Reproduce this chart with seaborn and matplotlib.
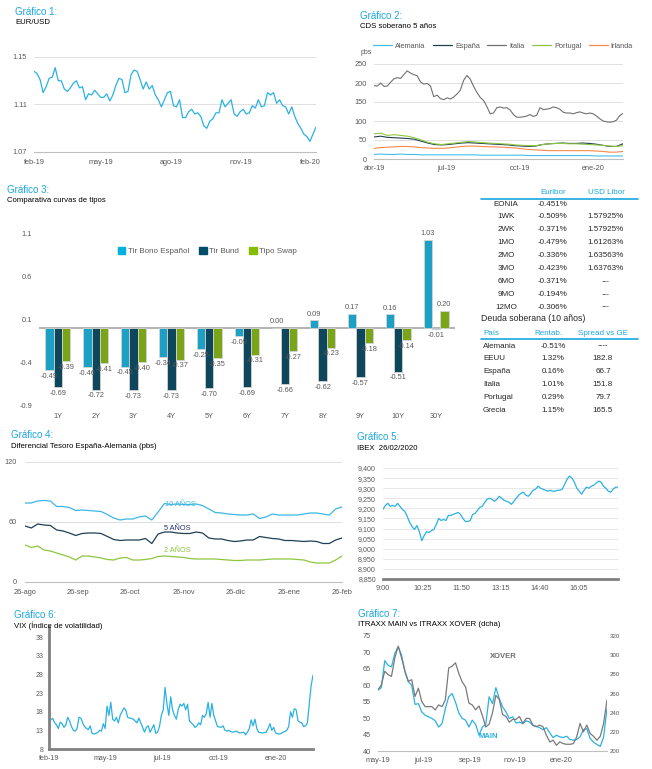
import matplotlib
matplotlib.use("Agg")
import matplotlib.dates as mdates
import matplotlib.pyplot as plt
import numpy as np
import pandas as pd
import seaborn as sns
from matplotlib.lines import Line2D
from matplotlib.patches import Patch

sns.set_theme(style="white")
plt.rcParams["font.family"] = ["Liberation Sans", "DejaVu Sans"]

# ---------------- data ----------------
# Gráfico 1: EUR/USD
eurusd = [1.138, 1.136, 1.131, 1.120, 1.125, 1.132, 1.133, 1.141, 1.130, 1.130, 1.123, 1.121,
          1.124, 1.128, 1.130, 1.124, 1.125, 1.114, 1.119, 1.118, 1.122, 1.119, 1.116, 1.116,
          1.119, 1.113, 1.118, 1.126, 1.132, 1.131, 1.120, 1.121, 1.135, 1.139, 1.138, 1.131,
          1.123, 1.129, 1.123, 1.126, 1.118, 1.114, 1.108, 1.114, 1.120, 1.121, 1.109, 1.108,
          1.114, 1.099, 1.099, 1.104, 1.106, 1.102, 1.103, 1.100, 1.092, 1.090, 1.096, 1.098,
          1.103, 1.103, 1.114, 1.108, 1.111, 1.114, 1.102, 1.100, 1.104, 1.106, 1.102, 1.103,
          1.109, 1.107, 1.114, 1.108, 1.109, 1.120, 1.118, 1.120, 1.111, 1.114, 1.109, 1.108,
          1.102, 1.108, 1.100, 1.094, 1.090, 1.085, 1.083, 1.079, 1.085, 1.091]
eurusd_ticks = ["2019-02-01", "2019-05-01", "2019-08-01", "2019-11-01", "2020-02-01"]
eurusd_labels = ["feb-19", "may-19", "ago-19", "nov-19", "feb-20"]

# Gráfico 2: CDS soberano 5 años (pbs)
cds_italia = [193, 192, 200, 191, 192, 202, 211, 214, 212, 222, 232, 226, 222, 219, 203, 197,
              199, 192, 164, 168, 159, 156, 161, 158, 163, 171, 181, 207, 220, 210, 191, 175,
              162, 154, 138, 119, 121, 135, 137, 134, 135, 129, 117, 110, 110, 111, 113, 117,
              112, 115, 135, 130, 131, 133, 137, 135, 131, 123, 121, 121, 119, 122, 124, 121,
              119, 121, 119, 113, 106, 100, 98, 97, 98, 102, 114, 120]
cds_portugal = [66, 68, 62, 64, 62, 60, 56, 50, 44, 40, 38, 40, 42, 44, 46, 45, 43, 42, 41,
                40, 39, 37, 36, 35, 35, 38, 40, 41, 41, 40, 40, 39, 38, 37, 36, 34, 33, 35]
cds_espana = [58, 60, 57, 56, 55, 54, 52, 47, 42, 38, 37, 38, 40, 42, 43, 42, 41, 40, 39,
              38, 37, 35, 34, 33, 34, 38, 40, 41, 42, 41, 41, 42, 41, 39, 36, 33, 33, 40]
cds_irlanda = [28, 30, 31, 32, 33, 33, 32, 30, 29, 28, 28, 29, 31, 33, 34, 34, 33, 32, 32,
               31, 30, 29, 27, 25, 24, 23, 22, 22, 22, 22, 22, 22, 22, 21, 20, 18, 18, 20]
cds_alemania = [12, 13, 12, 12, 13, 12, 12, 11, 11, 11, 11, 11, 11, 11, 11, 11, 10, 10, 10,
                10, 10, 10, 10, 9, 9, 9, 9, 9, 9, 9, 9, 9, 9, 8, 8, 8, 8, 8]
cds_names = ["Alemania", "España", "Italia", "Portugal", "Irlanda"]

# Gráfico 3: curvas de tipos
plazos = ["1Y", "2Y", "3Y", "4Y", "5Y", "6Y", "7Y", "8Y", "9Y", "10Y", "30Y"]
tir_bono = [-0.49, -0.46, -0.45, -0.34, -0.25, -0.09, 0.00, 0.09, 0.17, 0.16, 1.03]
tir_bund = [-0.69, -0.72, -0.73, -0.73, -0.70, -0.69, -0.66, -0.62, -0.57, -0.51, -0.01]
tipo_swap = [-0.39, -0.41, -0.40, -0.37, -0.35, -0.31, -0.27, -0.23, -0.18, -0.14, 0.20]
curvas = ["Tir Bono Español", "Tir Bund", "Tipo Swap"]

# Tabla Euribor / Libor
plazos_mm = ["EONIA", "1WK", "2WK", "1MO", "2MO", "3MO", "6MO", "9MO", "12MO"]
euribor = ["-0.451%", "-0.509%", "-0.371%", "-0.479%", "-0.336%", "-0.423%", "-0.371%",
           "-0.194%", "-0.306%"]
usd_libor = ["", "1.57925%", "1.57925%", "1.61263%", "1.63563%", "1.63763%", "---", "---", "---"]

# Tabla Deuda soberana (10 años)
paises = ["Alemania", "EEUU", "España", "Italia", "Portugal", "Grecia"]
rentab = ["-0.51%", "1.32%", "0.16%", "1.01%", "0.29%", "1.15%"]
spread = ["----", "182.8", "66.7", "151.8", "79.7", "165.5"]

# Gráfico 4: diferencial España-Alemania (pbs)
dif_10a = [79, 79, 81, 81.5, 81, 75.5, 75.5, 74.5, 71.5, 72, 71.5, 71, 70.5, 67.5, 64, 62, 63,
           63, 65, 66, 62, 70, 78.5, 77.5, 78, 77.5, 77.5, 78, 76.5, 73, 69.5, 69, 68, 67.5,
           67, 67, 68, 63.5, 65, 68, 67, 67, 67, 67, 68, 69, 69, 68, 67, 73, 75]
dif_5a = [56, 54, 58, 57, 56.5, 52, 51, 49, 46.5, 48.5, 49, 49, 48.5, 45.5, 42.5, 41.5, 42,
          42, 42, 43.5, 38.5, 48, 50, 50, 49, 48.5, 48.5, 50, 49, 44, 43, 43, 41.5, 40.5, 41,
          42, 42, 45.5, 44.5, 43.5, 43, 41.5, 41.5, 41, 40.5, 41, 40.5, 38.5, 38.5, 42, 44]
dif_2a = [37, 34.5, 36, 32, 31, 29, 27, 25, 22, 26, 26, 25, 24, 22.5, 22, 24, 24.5, 22, 22,
          22.5, 23.5, 25.5, 26, 25.5, 25, 24.5, 23.5, 23, 23, 23, 23, 22.5, 22, 21.5, 21.5, 22,
          22, 22, 22.5, 23, 23, 23, 23, 22.5, 22, 20, 19, 19, 19, 22, 26]
dif_ticks = ["2019-08-26", "2019-09-26", "2019-10-26", "2019-11-26", "2019-12-26",
             "2020-01-26", "2020-02-26"]
dif_labels = ["26-ago", "26-sep", "26-oct", "26-nov", "26-dic", "26-ene", "26-feb"]

# Gráfico 5: IBEX intradía 26/02/2020
ibex = [9195, 9215, 9225, 9210, 9215, 9210, 9225, 9210, 9195, 9185, 9160, 9130, 9110, 9095,
        9115, 9085, 9040, 9065, 9085, 9080, 9090, 9095, 9120, 9150, 9140, 9145, 9140, 9165,
        9165, 9170, 9175, 9180, 9170, 9150, 9135, 9135, 9140, 9170, 9175, 9190, 9205, 9210,
        9230, 9245, 9250, 9245, 9235, 9245, 9260, 9250, 9240, 9235, 9230, 9220, 9235, 9250,
        9265, 9275, 9280, 9265, 9260, 9275, 9290, 9295, 9310, 9300, 9295, 9290, 9285, 9290,
        9285, 9285, 9290, 9290, 9295, 9320, 9345, 9360, 9350, 9330, 9300, 9285, 9270, 9290,
        9305, 9300, 9310, 9315, 9325, 9335, 9330, 9310, 9300, 9285, 9280, 9295, 9305, 9305]
ibex_minutes = [0, 85, 170, 255, 340, 425]
ibex_labels = ["9:00", "10:25", "11:50", "13:15", "14:40", "16:05"]

# Gráfico 6: VIX
vix = [16, 15.8, 16.2, 15, 14.5, 13.5, 15.2, 14.8, 13.8, 14.5, 16.5, 15.5, 14, 13, 12.8, 13.5,
       16.5, 16.3, 15, 14, 13.5, 13.2, 14.2, 12.2, 12.0, 12.2, 12.4, 13, 12.8, 14.8, 13.5, 19.5,
       17, 20.5, 16, 15.5, 16.5, 15, 17, 18, 19, 18.5, 16.5, 16.3, 16.2, 16, 15.5, 15, 16.3,
       15, 13.8, 12.5, 13.8, 14.2, 12.5, 13.5, 14.5, 12.2, 12.5, 14, 17, 18.5, 24.5, 20, 17,
       22, 18.5, 17, 16, 18.5, 20, 19.5, 20.2, 18.5, 20, 15.5, 15, 14.5, 13.8, 14.2, 15, 14.5,
       17, 16.5, 17.5, 20.5, 16.5, 20.2, 17, 15.5, 14, 13.9, 13.8, 14.2, 13, 12.8, 13, 12.7,
       12.5, 12.6, 12.8, 12.5, 12.3, 12.4, 12.5, 11.8, 12.5, 13.5, 15.8, 14.2, 16, 13.5, 12.5,
       12.4, 12.3, 12.4, 12.5, 13.5, 14.8, 13, 13.8, 12.3, 12.1, 12, 12.2, 12.5, 12.7, 13, 14,
       18, 16.5, 18.8, 18.5, 15.5, 15.2, 15, 14, 14.2, 15, 20, 25, 27.8]
vix_labels = ["feb-19", "may-19", "jul-19", "oct-19", "ene-20"]

# Gráfico 7: ITRAXX MAIN (izq) vs XOVER (dcha)
itraxx_main = [58.5, 59.3, 67.5, 66.1, 65.6, 69.7, 71.7, 69.2, 64.1, 61.1, 60.0, 54.2, 54.4,
               51.9, 50.9, 50.4, 49.9, 49.2, 47.3, 48.3, 52.9, 56.5, 57.5, 54.9, 51.6, 49.9,
               49.4, 47.3, 49.4, 48.1, 44.8, 47.3, 48.1, 56.5, 54.4, 59.3, 56.0, 53.4, 51.9,
               49.9, 50.4, 48.5, 48.8, 48.3, 49.2, 48.8, 47.8, 47.5, 47.1, 46.5, 47.1, 45.5,
               44.1, 44.8, 44.3, 44.1, 44.5, 43.5, 43.3, 43.5, 44.3, 46.5, 46.8, 43.8, 42.7,
               42.0, 41.4, 44.3, 53.0]
itraxx_xover = [263.9, 269.1, 283.2, 279.7, 277.9, 297.2, 309.5, 297.2, 283.2, 272.7, 274.4,
                256.9, 265.6, 251.6, 246.3, 246.3, 246.3, 242.8, 248.1, 246.3, 253.4, 286.7,
                288.5, 292.0, 281.0, 272.0, 267.0, 250.0, 248.0, 243.0, 247.0, 237.0, 225.0,
                228.0, 240.0, 258.0, 254.0, 238.0, 236.0, 230.0, 233.0, 233.0, 236.0, 228.8,
                234.0, 234.0, 227.0, 225.3, 227.0, 225.3, 216.5, 209.5, 211.2, 206.0, 209.5,
                207.7, 207.0, 207.0, 207.7, 214.7, 228.8, 220.0, 227.0, 218.3, 215.4, 211.2,
                215.4, 228.8, 253.4]
itraxx_ticks = ["2019-05-01", "2019-07-01", "2019-09-01", "2019-11-01", "2020-01-01"]
itraxx_labels = ["may-19", "jul-19", "sep-19", "nov-19", "ene-20"]

# ---------------- layout ----------------
W, H = 652, 769
CYAN = "#19A7DE"
BLUE = "#2BB1E2"
NAVY = "#1F4658"
GREEN = "#8CC63F"
TXT = "#595959"
GRID = "#DADADA"

fig = plt.figure(figsize=(W / 100, H / 100), dpi=100)
fig.patch.set_facecolor("white")


def panel(x0, y0, x1, y1):
    ax = fig.add_axes([x0 / W, 1 - y1 / H, (x1 - x0) / W, (y1 - y0) / H])
    for s in ax.spines.values():
        s.set_visible(False)
    ax.tick_params(labelsize=5.3, labelcolor=TXT, length=0, pad=3)
    ax.set_facecolor("none")
    return ax


def put(x, y, s, **kw):
    kw.setdefault("va", "center")
    kw.setdefault("fontsize", 5.8)
    fig.text(x / W, 1 - y / H, s, **kw)


def heading(x, y, num, sub):
    put(x, y, f"Gráfico {num}:", color=CYAN, fontsize=7)
    put(x, y + 11, sub, color="black", fontsize=5.6)


def date_ticks(ax, days, names):
    ax.set_xticks(mdates.date2num(pd.to_datetime(days)), labels=names)


def bottom_line(ax, color="#BFBFBF", lw=0.8):
    ax.spines["bottom"].set_visible(True)
    ax.spines["bottom"].set_color(color)
    ax.spines["bottom"].set_linewidth(lw)


# Gráfico 1
heading(15, 12, 1, "EUR/USD")
ax = panel(34, 57, 316, 152)
d1 = pd.DataFrame({"fecha": pd.date_range("2019-02-01", "2020-02-09", periods=len(eurusd)),
                   "valor": eurusd})
sns.lineplot(data=d1, x="fecha", y="valor", ax=ax, color=BLUE, lw=0.9)
ax.set_xlim(d1["fecha"].iloc[0], d1["fecha"].iloc[-1])
ax.set_ylim(1.07, 1.15)
ax.set_yticks([1.07, 1.11, 1.15], labels=["1.07", "1.11", "1.15"])
ax.yaxis.grid(True, color=GRID, lw=0.6)
bottom_line(ax)
date_ticks(ax, eurusd_ticks, eurusd_labels)
ax.tick_params(axis="x", length=3, width=0.6, color="#BFBFBF", pad=2)
ax.tick_params(axis="y", pad=5)
ax.set(xlabel="", ylabel="")

# Gráfico 2
heading(360, 16, 2, "CDS soberano 5 años")
ax = panel(374, 64, 623, 159)
cds_series = [cds_alemania, cds_espana, cds_italia, cds_portugal, cds_irlanda]
cds_colors = ["#3FC0EA", "#203F4F", "#707070", "#8DC73F", "#F68A4A"]
parts = []
for name, vals in zip(cds_names, cds_series):
    parts.append(pd.DataFrame({"fecha": pd.date_range("2019-04-01", "2020-02-08", periods=len(vals)),
                               "pais": name, "pbs": vals}))
d2 = pd.concat(parts, ignore_index=True)
sns.lineplot(data=d2, x="fecha", y="pbs", hue="pais", hue_order=cds_names,
             palette=cds_colors, lw=0.8, ax=ax, legend=False)
ax.set_xlim(pd.Timestamp("2019-04-01"), pd.Timestamp("2020-02-08"))
ax.set_ylim(0, 250)
ax.set_yticks(range(0, 251, 50))
ax.yaxis.grid(True, color=GRID, lw=0.6)
bottom_line(ax)
date_ticks(ax, ["2019-04-01", "2019-07-01", "2019-10-01", "2020-01-01"],
           ["abr-19", "jul-19", "oct-19", "ene-20"])
ax.tick_params(axis="x", pad=4)
ax.tick_params(axis="y", pad=5)
ax.set(xlabel="", ylabel="")
ax.legend([Line2D([], [], color=c, lw=0.9) for c in cds_colors], cds_names,
          loc="center", bbox_to_anchor=(503 / W, 1 - 46 / H), bbox_transform=fig.transFigure,
          ncol=5, frameon=False, fontsize=5.3, handlelength=2.6, handletextpad=0.4,
          columnspacing=1.0, borderpad=0, labelcolor=TXT)
put(361, 53, "pbs", fontsize=5, color=TXT)

# Gráfico 3
heading(7, 190, 3, "Comparativa curvas de tipos")
ax = panel(39, 234, 455, 405)
d3 = pd.DataFrame({"plazo": plazos * 3,
                   "curva": [curvas[0]] * 11 + [curvas[1]] * 11 + [curvas[2]] * 11,
                   "valor": tir_bono + tir_bund + tipo_swap})
bar_colors = ["#00B2E0", "#014D69", "#84BD00"]
sns.barplot(data=d3, x="plazo", y="valor", hue="curva", order=plazos, hue_order=curvas,
            palette=bar_colors, width=0.66, errorbar=None, edgecolor="#D4D4D4",
            linewidth=0.6, ax=ax, legend=False)
for cont in ax.containers:
    ax.bar_label(cont, fmt="%.2f", fontsize=5.3, color=TXT, padding=2)
ax.axhline(0, color="#A6A6A6", lw=1.2, zorder=0.5)
ax.set_ylim(-0.9, 1.1)
yt = [-0.9, -0.4, 0.1, 0.6, 1.1]
ax.set_yticks(yt, labels=[f"{t:.1f}" for t in yt])
ax.tick_params(axis="y", pad=5)
ax.tick_params(axis="x", pad=6)
ax.set(xlabel="", ylabel="")
ax.legend([Patch(color=c) for c in bar_colors], curvas, loc="center left",
          bbox_to_anchor=(118 / W, 1 - 251 / H), bbox_transform=fig.transFigure, ncol=3,
          frameon=False, fontsize=5.8, handlelength=0.9, handleheight=0.9, handletextpad=0.3,
          columnspacing=1.3, borderpad=0, borderaxespad=0, labelcolor=TXT)

# Tabla tipos interbancarios
put(553, 192, "Euribor", color=CYAN, ha="center")
put(606, 192, "USD Libor", color=CYAN, ha="center")
fig.add_artist(Line2D([481 / W, 638 / W], [1 - 199 / H] * 2, color=CYAN, lw=1.2))
for i, (p, e, l) in enumerate(zip(plazos_mm, euribor, usd_libor)):
    y = 204 + i * 12.9
    put(506, y, p, ha="center")
    put(553, y, e, ha="center")
    put(606, y, l, ha="center")

put(481, 319, "Deuda soberana (10 años)", fontsize=6.3)
put(483, 333, "País", color=CYAN)
put(548, 333, "Rentab.", color=CYAN, ha="center")
put(603, 333, "Spread vs GE", color=CYAN, ha="center")
fig.add_artist(Line2D([481 / W, 638 / W], [1 - 339 / H] * 2, color=CYAN, lw=1.2))
for i, (p, r, s) in enumerate(zip(paises, rentab, spread)):
    y = 346 + i * 12.8
    put(483, y, p)
    put(553, y, r, ha="center")
    put(603, y, s, ha="center")

# Gráfico 4
heading(11, 435, 4, "Diferencial Tesoro España-Alemania (pbs)")
ax = panel(25, 462, 342, 582)
fechas4 = pd.date_range("2019-08-26", "2020-02-26", periods=len(dif_10a))
d4 = pd.DataFrame({"fecha": list(fechas4) * 3,
                   "plazo": ["10 AÑOS"] * len(dif_10a) + ["5 AÑOS"] * len(dif_5a)
                   + ["2 AÑOS"] * len(dif_2a),
                   "pbs": dif_10a + dif_5a + dif_2a})
dif_colors = ["#3DB7E4", "#1F3F55", "#8DC63F"]
sns.lineplot(data=d4, x="fecha", y="pbs", hue="plazo", palette=dif_colors, lw=0.9, ax=ax,
             legend=False)
ax.set_xlim(fechas4[0], fechas4[-1])
ax.set_ylim(0, 120)
ax.set_yticks([0, 60, 120])
ax.yaxis.grid(True, color=GRID, lw=0.6)
bottom_line(ax)
date_ticks(ax, dif_ticks, dif_labels)
ax.tick_params(axis="x", length=3, width=0.6, color="#BFBFBF", pad=2)
ax.tick_params(axis="y", pad=6)
ax.set(xlabel="", ylabel="")
put(180, 505, "10 AÑOS", color=dif_colors[0], fontsize=5.3, ha="center")
put(177, 529, "5 AÑOS", color="#1F2F6B", fontsize=5.3, ha="center")
put(177, 551, "2 AÑOS", color=dif_colors[2], fontsize=5.3, ha="center")

# Gráfico 5
heading(357, 437, 5, "IBEX  26/02/2020")
ax = panel(383, 468, 618, 579)
d5 = pd.DataFrame({"minuto": np.linspace(0, 510, len(ibex)), "ibex": ibex})
sns.lineplot(data=d5, x="minuto", y="ibex", ax=ax, color=BLUE, lw=0.9)
ax.set_xlim(0, 510)
ax.set_ylim(8850, 9400)
yt = list(range(8850, 9401, 50))
ax.set_yticks(yt, labels=[f"{v:,}" for v in yt])
ax.yaxis.grid(True, color="#E3E3E3", lw=0.6)
bottom_line(ax, "#7F7F7F", 2.0)
ax.set_xticks(ibex_minutes, labels=ibex_labels)
ax.tick_params(axis="x", pad=4)
ax.tick_params(axis="y", pad=5, labelsize=5.1)
ax.set(xlabel="", ylabel="")

# Gráfico 6
heading(14, 615, 6, "VIX (Índice de volatilidad)")
ax = panel(49, 627, 313, 749)
d6 = pd.DataFrame({"sesion": np.arange(len(vix)), "vix": vix})
sns.lineplot(data=d6, x="sesion", y="vix", ax=ax, color=BLUE, lw=0.9)
ax.set_xlim(0, len(vix) - 1)
ax.set_ylim(8, 40.7)
ax.set_yticks(range(8, 39, 5))
bottom_line(ax, "#808080", 2.0)
ax.spines["left"].set_visible(True)
ax.spines["left"].set_color("#808080")
ax.spines["left"].set_linewidth(2.0)
step = (len(vix) - 1) * 0.2148
ax.set_xticks([k * step for k in range(5)], labels=vix_labels)
ax.tick_params(axis="x", pad=4, labelsize=5.1)
ax.tick_params(axis="y", pad=4, labelsize=5)
ax.set(xlabel="", ylabel="")

# Gráfico 7
heading(358, 614, 7, "ITRAXX MAIN vs ITRAXX XOVER (dcha)")
ax = panel(378, 636, 607, 751)
fechas7 = pd.date_range("2019-05-01", "2020-03-03", periods=len(itraxx_main))
d7 = pd.DataFrame({"fecha": fechas7, "main": itraxx_main, "xover": itraxx_xover})
sns.lineplot(data=d7, x="fecha", y="main", ax=ax, color=BLUE, lw=0.9)
ax.set_xlim(fechas7[0], fechas7[-1])
ax.set_ylim(40, 75)
ax.set_yticks(range(40, 76, 5))
bottom_line(ax)
date_ticks(ax, itraxx_ticks, itraxx_labels)
ax.tick_params(axis="x", pad=4)
ax.tick_params(axis="y", pad=5)
ax.set(xlabel="", ylabel="")
ax2 = ax.twinx()
for s in ax2.spines.values():
    s.set_visible(False)
sns.lineplot(data=d7, x="fecha", y="xover", ax=ax2, color="#7A7A7A", lw=0.9)
ax2.set_ylim(200, 320)
ax2.set_yticks(range(200, 321, 20))
ax2.tick_params(axis="y", length=0, labelsize=4.4, labelcolor=TXT, pad=2)
ax2.set(ylabel="")
put(503, 657, "XOVER", color="#6E6E6E", fontsize=5.5, fontweight="bold", ha="center")
put(488, 737, "MAIN", color=BLUE, fontsize=5.5, fontweight="bold", ha="center")

fig.savefig("out.png", dpi=100)
